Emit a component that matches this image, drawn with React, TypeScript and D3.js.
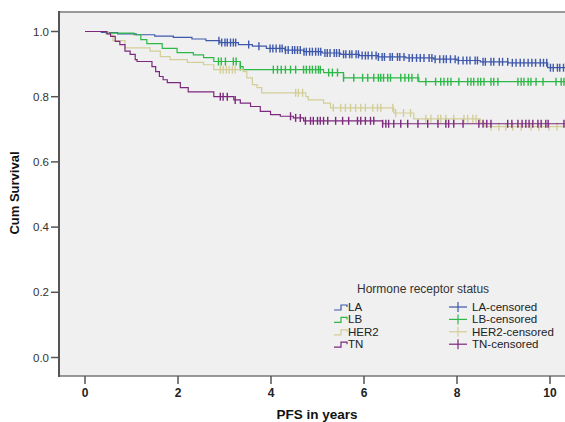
import * as d3 from "d3";

const W = 565;
const H = 422;

const groups = ["LA", "LB", "HER2", "TN"];
const colors = ["#3e58ac", "#2eb848", "#d3ce97", "#7c287d"];
const xTicks = [0, 2, 4, 6, 8, 10];
const yTicks = [0, 0.2, 0.4, 0.6, 0.8, 1.0];

// step points: event time, survival after it
const laTimes = [0, 0.35, 0.7, 1.1, 1.5, 1.9, 2.3, 2.6, 2.9, 3.3, 3.6, 3.9, 4.3, 4.7, 5.1, 5.5, 5.9, 6.3, 6.9, 7.5, 8.0, 8.5, 9.1, 9.95];
const laSurv = [1.0, 0.997, 0.993, 0.99, 0.986, 0.982, 0.977, 0.972, 0.966, 0.96, 0.955, 0.948, 0.943, 0.938, 0.934, 0.93, 0.926, 0.922, 0.919, 0.915, 0.911, 0.907, 0.904, 0.889];
const lbTimes = [0, 0.45, 1.05, 1.2, 1.33, 1.66, 1.98, 2.33, 2.55, 2.77, 3.34, 3.4, 5.13, 5.56, 7.18];
const lbSurv = [1.0, 0.995, 0.99, 0.975, 0.963, 0.948, 0.935, 0.928, 0.92, 0.908, 0.892, 0.883, 0.874, 0.858, 0.846];
const her2Times = [0, 0.5, 0.6, 0.86, 1.4, 1.62, 1.83, 2.2, 2.55, 2.77, 3.4, 3.48, 3.6, 3.7, 3.8, 4.75, 4.8, 5.13, 5.28, 6.64, 7.07, 8.5, 8.6];
const her2Surv = [1.0, 0.99, 0.972, 0.95, 0.94, 0.923, 0.914, 0.905, 0.898, 0.883, 0.877, 0.858, 0.837, 0.828, 0.812, 0.8, 0.79, 0.78, 0.766, 0.75, 0.732, 0.72, 0.708];
const tnTimes = [0, 0.47, 0.55, 0.65, 0.75, 0.86, 0.97, 1.08, 1.12, 1.44, 1.52, 1.6, 1.68, 1.77, 2.05, 2.22, 2.77, 3.2, 3.34, 3.56, 3.77, 3.99, 4.2, 4.48, 4.7, 6.4];
const tnSurv = [1.0, 0.993, 0.985, 0.97, 0.96, 0.94, 0.93, 0.914, 0.908, 0.892, 0.877, 0.862, 0.852, 0.843, 0.828, 0.815, 0.8, 0.79, 0.78, 0.77, 0.755, 0.745, 0.74, 0.735, 0.726, 0.717];

// censored times
const laCensor = [2.88, 2.94, 3.01, 3.06, 3.13, 3.19, 3.24, 3.52, 3.74, 3.98, 4.04, 4.11, 4.19, 4.24, 4.31, 4.37, 4.46, 4.51, 4.57, 4.63, 4.71, 4.76, 4.83, 4.89, 4.96, 5.02, 5.07, 5.16, 5.21, 5.27, 5.36, 5.41, 5.47, 5.56, 5.61, 5.69, 5.74, 5.83, 5.88, 5.96, 6.03, 6.09, 6.17, 6.26, 6.31, 6.39, 6.44, 6.56, 6.61, 6.72, 6.77, 6.86, 6.97, 7.04, 7.13, 7.21, 7.29, 7.4, 7.46, 7.53, 7.63, 7.71, 7.77, 7.86, 7.96, 8.03, 8.13, 8.21, 8.28, 8.39, 8.44, 8.56, 8.61, 8.73, 8.79, 8.91, 8.98, 9.09, 9.19, 9.27, 9.36, 9.44, 9.53, 9.61, 9.69, 9.79, 9.86, 9.93, 10.01, 10.07, 10.16, 10.21, 10.29];
const lbCensor = [2.87, 2.93, 3.02, 3.19, 3.25, 3.34, 4.05, 4.14, 4.22, 4.31, 4.42, 4.53, 4.7, 4.76, 4.83, 4.89, 4.96, 5.02, 5.06, 5.24, 5.32, 5.43, 5.56, 5.78, 5.97, 6.08, 6.21, 6.31, 6.36, 6.42, 6.51, 6.57, 6.79, 6.88, 6.96, 7.03, 7.16, 7.33, 7.54, 7.65, 7.72, 7.8, 7.87, 8.04, 8.23, 8.3, 8.36, 8.45, 8.51, 8.58, 8.73, 8.79, 8.88, 9.31, 9.38, 9.44, 9.53, 9.59, 9.7, 9.85, 10.13, 10.24, 10.3];
const her2Censor = [2.91, 2.97, 3.04, 3.1, 3.17, 3.23, 4.53, 4.59, 4.68, 5.34, 5.5, 5.6, 5.71, 5.82, 5.93, 6.03, 6.19, 6.29, 6.36, 6.62, 6.68, 6.85, 7.0, 7.33, 7.44, 7.59, 7.65, 7.76, 7.93, 8.15, 8.23, 8.34, 8.41, 8.73, 8.9, 9.05, 9.2, 9.38, 9.59, 9.76, 9.98, 10.15];
const tnCensor = [2.91, 2.97, 3.06, 3.23, 4.42, 4.53, 4.63, 4.74, 4.85, 4.91, 5.0, 5.06, 5.13, 5.22, 5.39, 5.54, 5.67, 5.86, 5.93, 6.03, 6.14, 6.21, 6.4, 6.47, 6.53, 6.64, 6.79, 6.94, 7.16, 7.37, 7.59, 7.76, 7.82, 7.93, 8.13, 8.47, 8.56, 8.64, 8.73, 9.09, 9.18, 9.31, 9.4, 9.48, 9.55, 9.63, 9.74, 9.81, 9.91, 9.96, 10.3];

const series = [
  { times: laTimes, surv: laSurv, censor: laCensor },
  { times: lbTimes, surv: lbSurv, censor: lbCensor },
  { times: her2Times, surv: her2Surv, censor: her2Censor },
  { times: tnTimes, surv: tnSurv, censor: tnCensor },
];

const plot = { left: 59, top: 12, right: 566, bottom: 376 };
const xMax = 10.4;
const font = "'Liberation Sans', Arial, sans-serif";

const x = d3.scaleLinear().domain([0, 10]).range([85, 550]);
const y = d3.scaleLinear().domain([0, 1]).range([357.5, 31.5]);

const stepLine = d3
  .line<[number, number]>()
  .x((d) => x(d[0]))
  .y((d) => y(d[1]))
  .curve(d3.curveStepAfter);

function survAt(times: number[], surv: number[], t: number) {
  const i = d3.bisectRight(times, t) - 1;
  return surv[Math.max(0, i)];
}

export default function App() {
  return (
    <svg
      width={W}
      height={H}
      style={{ position: "absolute", left: 0, top: 0, background: "#fff" }}
      fontFamily={font}
    >
      <rect
        x={plot.left}
        y={plot.top}
        width={plot.right - plot.left}
        height={plot.bottom - plot.top}
        fill="#f0f0f0"
      />
      <line x1={plot.left} x2={plot.right} y1={plot.top} y2={plot.top} stroke="#999" strokeWidth={2} />
      <line x1={plot.left} x2={plot.right} y1={plot.bottom} y2={plot.bottom} stroke="#777" strokeWidth={1.5} />
      <line x1={plot.left} x2={plot.left} y1={plot.top - 1} y2={plot.bottom + 1} stroke="#555" strokeWidth={2} />

      {yTicks.map((t) => (
        <g key={t}>
          <line x1={51} x2={plot.left} y1={y(t)} y2={y(t)} stroke="#555" strokeWidth={1.5} />
          <text x={49} y={y(t) + 4} textAnchor="end" fontSize={11.5} fill="#333">
            {t.toFixed(1)}
          </text>
        </g>
      ))}
      {xTicks.map((t) => (
        <g key={t}>
          <line x1={x(t)} x2={x(t)} y1={plot.bottom} y2={384} stroke="#555" strokeWidth={1.5} />
          <text x={x(t)} y={397} textAnchor="middle" fontSize={12} fontWeight="bold" fill="#222">
            {t}
          </text>
        </g>
      ))}
      <text x={317} y={419} textAnchor="middle" fontSize={13.5} fontWeight="bold" fill="#111">
        PFS in years
      </text>
      <text
        transform={`translate(19, 193) rotate(-90)`}
        textAnchor="middle"
        fontSize={13}
        fontWeight="bold"
        fill="#111"
      >
        Cum Survival
      </text>

      {series.map((s, i) => {
        const pts: [number, number][] = s.times.map((t, j) => [t, s.surv[j]]);
        pts.push([xMax, s.surv[s.surv.length - 1]]);
        return (
          <g key={groups[i]}>
            <path d={stepLine(pts) ?? ""} fill="none" stroke={colors[i]} strokeWidth={1.2} />
            {s.censor.map((c, k) => {
              const cy = y(survAt(s.times, s.surv, c));
              return (
                <line key={k} x1={x(c)} x2={x(c)} y1={cy - 4} y2={cy + 4} stroke={colors[i]} strokeWidth={1.4} />
              );
            })}
          </g>
        );
      })}

      <text x={357} y={293} fontSize={12} fill="#333">
        Hormone receptor status
      </text>
      {groups.map((g, i) => {
        const cy = 307 + i * 12.4;
        return (
          <g key={g}>
            <path
              d={`M334,${cy + 3}H341V${cy - 2}H347V${cy}`}
              fill="none"
              stroke={colors[i]}
              strokeWidth={1.2}
            />
            <text x={348} y={cy + 4} fontSize={11.5} fill="#222">
              {g}
            </text>
            <line x1={449} x2={467} y1={cy} y2={cy} stroke={colors[i]} strokeWidth={1.2} />
            <line x1={458} x2={458} y1={cy - 5} y2={cy + 5} stroke={colors[i]} strokeWidth={1.2} />
            <text x={472} y={cy + 4} fontSize={11.5} fill="#222">
              {g}-censored
            </text>
          </g>
        );
      })}
    </svg>
  );
}
